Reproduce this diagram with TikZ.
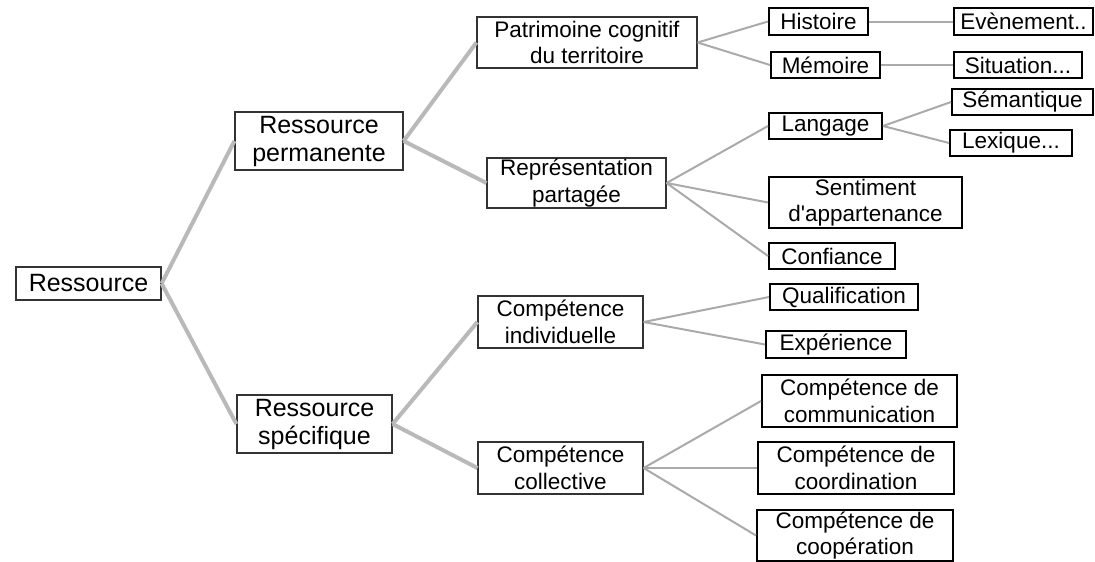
\documentclass[tikz,border=0pt]{standalone}
\usepackage{fontspec}
\setmainfont{Liberation Sans}
\usetikzlibrary{scopes}

\begin{document}
\begin{tikzpicture}[x=1pt,y=-1pt,
	box/.style={draw=black!80,line width=1.2pt,fill=white,align=center,inner sep=0pt},
	big/.style={box,font=\fontsize{25}{28}\selectfont},
	mid/.style={box,font=\fontsize{22.5}{26.5}\selectfont},
	leaf/.style={mid,draw=black,line width=2pt}]

\definecolor{lgray}{RGB}{185,185,185};
\definecolor{dgray}{RGB}{170,170,170};

\useasboundingbox (0,0) rectangle (1095,562);

%draw rectangles

\node[big,minimum width=145,minimum height=33] (res) at (88.5,283.5) {Ressource};

\node[big,minimum width=168,minimum height=58] (perm) at (319,141) {Ressource\\permanente};
\node[big,minimum width=155,minimum height=58] (spec) at (314.5,424) {Ressource\\spécifique};

\node[mid,minimum width=220,minimum height=51] (patr) at (587,42.5) {Patrimoine cognitif\\du territoire};
\node[mid,minimum width=179,minimum height=50] (repr) at (576.5,183) {Représentation\\partagée};
\node[mid,minimum width=165,minimum height=52] (indiv) at (560.5,322) {Compétence\\individuelle};
\node[mid,minimum width=165,minimum height=52] (coll) at (560.5,468) {Compétence\\collective};

\node[leaf,minimum width=99,minimum height=27] (hist) at (818.5,21.5) {Histoire};
\node[leaf,minimum width=109,minimum height=26] (mem) at (825.5,65) {Mémoire};
\node[leaf,minimum width=113,minimum height=26] (lang) at (825.5,126) {Langage};
\node[leaf,minimum width=193,minimum height=51] (sent) at (865.5,202.5) {Sentiment\\d\textquotesingle appartenance};
\node[leaf,minimum width=126,minimum height=26] (conf) at (832,256) {Confiance};
\node[leaf,minimum width=148,minimum height=26] (qual) at (844,297) {Qualification};
\node[leaf,minimum width=140,minimum height=27] (expe) at (836,344.5) {Expérience};
\node[leaf,minimum width=195,minimum height=52] (comm) at (859.5,401) {Compétence de\\communication};
\node[leaf,minimum width=196,minimum height=52] (coor) at (856,468) {Compétence de\\coordination};
\node[leaf,minimum width=196,minimum height=51] (coop) at (855,535.5) {Compétence de\\coopération};

\node[leaf,minimum width=139,minimum height=27] (even) at (1023.5,21.5) {Evènement..};
\node[leaf,minimum width=128,minimum height=26] (situ) at (1018,65) {Situation...};
\node[leaf,minimum width=141,minimum height=26] (sem) at (1022.5,102) {Sémantique};
\node[leaf,minimum width=122,minimum height=26] (lex) at (1011,143) {Lexique...};

%draw links

{[draw=lgray,line width=4pt]
	% from ressource
	\draw (res.east)--(perm.west);
	\draw (res.east)--(spec.west);

	\draw (perm.east)--(patr.west);
	\draw (perm.east)--(repr.west);
	\draw (spec.east)--(indiv.west);
	\draw (spec.east)--(coll.west);
}

{[draw=dgray,line width=2pt]
	\draw (patr.east)--(hist.west);
	\draw (patr.east)--(mem.west);

	\draw (repr.east)--(lang.west);
	\draw (repr.east)--(sent.west);
	\draw (repr.east)--(conf.west);

	\draw (indiv.east)--(qual.west);
	\draw (indiv.east)--(expe.west);

	\draw (coll.east)--(comm.west);
	\draw (coll.east)--(coor.west);
	\draw (coll.east)--(coop.west);

	% last level
	\draw (hist.east)--(even.west);
	\draw (mem.east)--(situ.west);
	\draw (lang.east)--(sem.west);
	\draw (lang.east)--(lex.west);
}

\end{tikzpicture}
\end{document}
